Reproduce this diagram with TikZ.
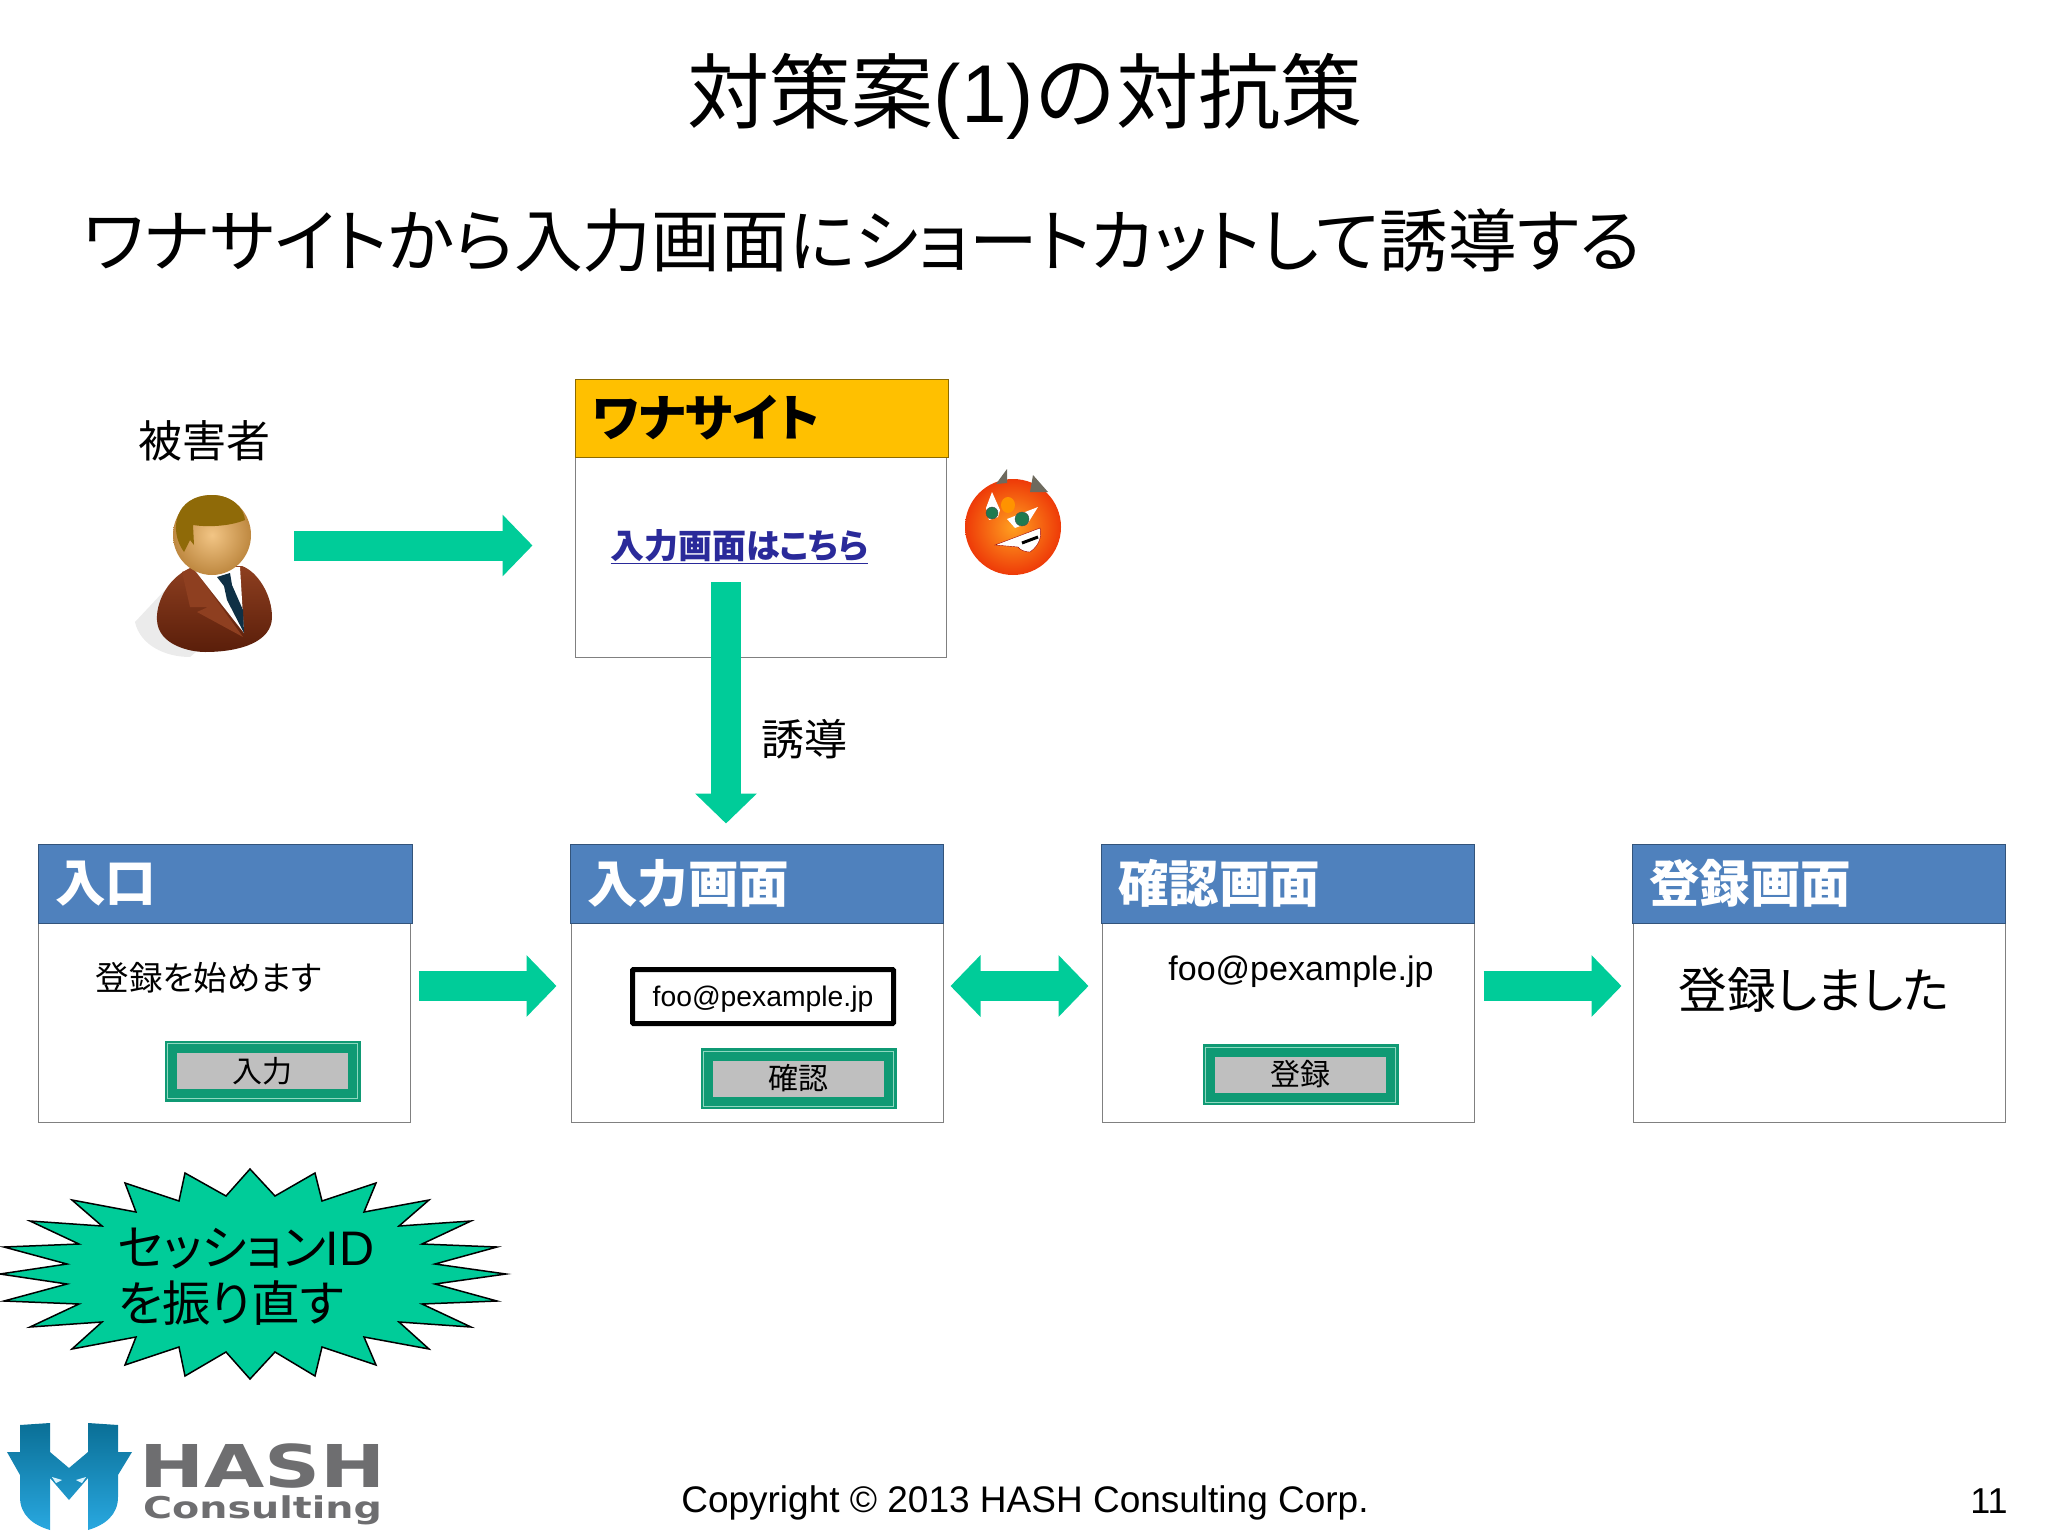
\documentclass[tikz,border=0pt]{standalone}
\usepackage{fontspec}
\usetikzlibrary{arrows.meta}
\setmainfont{Liberation Sans}
\newfontfamily\cjk{Noto Sans CJK JP}
\newfontfamily\cjkp[RawFeature=+palt]{Noto Sans CJK JP}
\newfontfamily\logofont[FakeStretch=1.32]{DejaVu Sans}
\newcommand{\sz}[1]{\fontsize{#1}{#1}\selectfont}
\definecolor{arrowgreen}{HTML}{00CC99}
\definecolor{headblue}{HTML}{4F81BD}
\definecolor{trapgold}{HTML}{FFC000}
\definecolor{btngreen}{HTML}{0F9A74}
\definecolor{btnlight}{HTML}{8FD8C0}
\definecolor{btngray}{HTML}{BFBFBF}
\definecolor{linkblue}{HTML}{2A2A9A}
\definecolor{suitlight}{HTML}{8E3F20}
\definecolor{suitdark}{HTML}{5A1E0A}
\definecolor{hairbrown}{HTML}{8F6A08}
\definecolor{skinlight}{HTML}{F2C585}
\definecolor{skindark}{HTML}{BE8840}
\definecolor{tieblue}{HTML}{0F3045}
\definecolor{devilin}{HTML}{FFA020}
\definecolor{devilout}{HTML}{EE3A08}
\definecolor{hornbrown}{HTML}{6E6A5E}
\definecolor{eyegreen}{HTML}{1F7A50}
\definecolor{logotop}{HTML}{0A6F96}
\definecolor{logobot}{HTML}{29A8E0}
\definecolor{logogray}{HTML}{6E6E70}
\tikzset{
	header/.style={draw=headblue!65!black,fill=headblue,line width=1pt,minimum height=79pt,text width=339pt,inner xsep=17pt,text=white,font=\cjk\bfseries\sz{50.5}},
	body/.style={draw=gray,fill=white,line width=1pt,minimum height=199pt},
	btn/.style={fill=btngray,inner sep=0pt,minimum width=171pt,minimum height=36pt,font=\cjk\sz{30},
		preaction={draw=btngreen,line width=25pt},preaction={draw=btnlight,line width=20pt},preaction={draw=btngreen,line width=18pt}},
	bigarrow/.style={draw=arrowgreen,line width=30pt,-{Triangle[length=30pt,width=60pt]}},
	label/.style={inner sep=0pt,font=\cjk\sz{#1}},
	plabel/.style={inner sep=0pt,font=\cjkp\sz{#1}},
	burst/.style={draw=black,fill=arrowgreen,line width=1.5pt}
}
\begin{document}
\begin{tikzpicture}[x=1pt,y=-1pt]
	\useasboundingbox (0,0) rectangle (2048,1536);

	\node[inner sep=0pt,font=\sz{82}] (title) at (1025,96) {\cjk 対策案\rmfamily(1)\cjk の対抗策};
	\node[plabel=68.7] (subtitle) at (862,240) {ワナサイトから入力画面にショートカットして誘導する};

	\node[label=44] (victimlabel) at (204,441) {被害者};
	\node[inner sep=0pt,minimum width=142pt,minimum height=160pt] (victim) at (203,575) {};
	\fill[gray!40,opacity=.4] (165,590) -- (135,622) .. controls (140,645) and (165,657) .. (190,657) -- (210,640) -- cycle;
	\draw[draw=none,top color=suitlight,bottom color=suitdark] (190,568) .. controls (165,580) and (156,605) .. (157,620) .. controls (158,645) and (190,652) .. (205,652) .. controls (240,652) and (272,642) .. (272,617) .. controls (272,595) and (258,572) .. (242,566) -- cycle;
	\fill[suitlight] (182,572) -- (190,607) -- (208,607) -- (197,612) -- (243,637) -- (193,568) -- cycle;
	\fill[white] (193,568) -- (240,567) -- (244,633) -- cycle;
	\fill[tieblue] (217,577) -- (230,573) -- (232,585) -- (243,610) -- (244,633) -- (227,600) -- (224,586) -- cycle;
	\shade[inner color=skinlight,outer color=skindark] (212,535) circle[x radius=39,y radius=40];
	\fill[hairbrown] (184,552) .. controls (168,530) and (175,495) .. (212,495) .. controls (232,495) and (244,508) .. (245,520) .. controls (228,527) and (205,527) .. (193,525) -- (194,545) -- (190,540) -- cycle;

	\node[body,minimum width=371pt,minimum height=200pt] (site) at (760.5,557) {};
	\node[header,draw=trapgold!55!black,fill=trapgold,text=black,font=\cjkp\bfseries\sz{50},minimum height=78pt] (sitehead) at (761.5,418) {ワナサイト};
	\node[inner sep=0pt,text=linkblue,font=\cjkp\bfseries\sz{34}] (sitelink) at (739.5,547) {\underline{入力画面はこちら}};

	\shade[inner color=devilin,outer color=devilout] (1013,527) circle[radius=48];
	\fill[hornbrown] (996,484) -- (1007,469) -- (1007,483) -- cycle;
	\fill[hornbrown] (1030,492) -- (1033,475) -- (1048,492) -- cycle;
	\fill[orange!85!yellow] (1008,505) circle[x radius=7,y radius=8];
	\fill[white] (992,492) -- (986,508) -- (989,520) -- (998,517) -- (1000,510) -- cycle;
	\fill[white] (1038,507) -- (1007,519) -- (1015,528) -- (1028,523) -- cycle;
	\fill[eyegreen,draw=black!70] (992,513) circle[radius=6];
	\fill[eyegreen,draw=black!70] (1022,519) circle[radius=7];
	\fill[white,draw=red!60!black] (995,545) -- (1040,528) .. controls (1042,535) and (1040,545) .. (1030,552) .. controls (1025,552) and (1020,550) .. (1018,547) -- cycle;
	\draw[black,line width=3pt] (1022,543) -- (1038,537);

	\node[body,minimum width=372pt] (entry) at (224,1023) {};
	\node[header,minimum width=374pt,text width=340pt] (entryhead) at (225,883.5) {入口};
	\node[plabel=33.5] (entrytext) at (208.5,978) {登録を始めます};
	\node[btn] (entrybtn) at (262.5,1071) {入力};

	\node[body,minimum width=372pt] (form) at (757,1023) {};
	\node[header] (formhead) at (756.5,883.5) {入力画面};
	\node[draw=black,fill=white,line width=5pt,rounded corners=1pt,inner sep=0pt,minimum width=261pt,minimum height=54pt,font=\sz{28.3}] (forminput) at (763,996.5) {\raisebox{-3pt}[\height][\depth]{foo@pexample.jp}};
	\node[btn] (formbtn) at (798.5,1078.5) {確認};

	\node[body,minimum width=372pt] (confirm) at (1288,1023) {};
	\node[header] (confirmhead) at (1287.5,883.5) {確認画面};
	\node[inner sep=0pt,font=\sz{34}] (confirmmail) at (1301,972) {foo@pexample.jp};
	\node[btn] (confirmbtn) at (1300.5,1074.5) {登録};

	\node[body,minimum width=372pt] (done) at (1819,1023) {};
	\node[header] (donehead) at (1818.5,883.5) {登録画面};
	\node[plabel=48.7] (donetext) at (1814,990) {登録しました};

	\draw[bigarrow,shorten <=20pt,shorten >=42pt] ([yshift=29.5pt]victim.east) -- ([yshift=11.5pt]site.west);
	\draw[bigarrow,shorten >=20pt] ([xshift=-34.5pt,yshift=-25pt]site.center) -- ([xshift=-30.5pt]formhead.north);
	\node[label=43] (lurelabel) at (804,739) {誘導};
	\draw[bigarrow,shorten <=8pt,shorten >=14pt] ([yshift=37pt]entry.east) -- ([yshift=37pt]form.west);
	\draw[bigarrow,{Triangle[length=30pt,width=60pt]}-{Triangle[length=30pt,width=60pt]},shorten <=7pt,shorten >=13pt] ([yshift=37pt]form.east) -- ([yshift=37pt]confirm.west);
	\draw[bigarrow,shorten <=9pt,shorten >=11pt] ([yshift=37pt]confirm.east) -- ([yshift=37pt]done.west);

	\draw[burst] (250,1169) -- (275,1196) -- (315,1173) -- (322,1201) -- (376,1183) -- (364,1212) -- (429,1200) -- (399,1226) -- (471,1221) -- (422,1244) -- (497,1247) -- (435,1264) -- (506,1274) -- (435,1284) -- (497,1301) -- (422,1304) -- (471,1327) -- (399,1322) -- (429,1349) -- (364,1337) -- (376,1365) -- (322,1347) -- (315,1376) -- (275,1352) -- (250,1379) -- (226,1352) -- (185,1376) -- (179,1347) -- (125,1365) -- (136,1337) -- (72,1349) -- (102,1322) -- (30,1327) -- (79,1304) -- (4,1301) -- (67,1284) -- (0,1274) -- (67,1264) -- (4,1247) -- (79,1244) -- (30,1221) -- (102,1226) -- (72,1200) -- (136,1212) -- (125,1183) -- (179,1201) -- (185,1173) -- (226,1196) -- cycle;
	\node[inner sep=0pt,align=left,font=\fontsize{48.5}{56}\selectfont] (bursttext) at (246,1277) {{\cjkp セッション}ID\\{\cjkp を振り直す}};

	\shade[top color=logotop,bottom color=logobot] (20,1425) -- (50,1423) -- (50,1452) -- (69,1468) -- (88,1452) -- (88,1423) -- (118,1425) -- (118,1452) -- (132,1452) -- (118,1475) -- (118,1497) .. controls (118,1515) and (105,1525) .. (88,1530) -- (88,1478) -- (69,1500) -- (50,1478) -- (50,1530) .. controls (33,1525) and (20,1515) .. (20,1497) -- (20,1475) -- (7,1452) -- (20,1452) -- cycle;
	\fill[white!85!cyan] (52,1477) -- (62,1480) -- (56,1483) -- cycle;
	\fill[white!85!cyan] (86,1477) -- (76,1480) -- (82,1483) -- cycle;
	\node[inner sep=0pt,text=logogray,font=\logofont\bfseries\sz{59}] (logohash) at (262.5,1466.5) {HASH};
	\node[inner sep=0pt,text=logogray,font=\logofont\bfseries\sz{30}] (logoname) at (262.5,1510) {Consulting};

	\node[inner sep=0pt,font=\sz{37}] (copyright) at (1025,1503) {Copyright © 2013 HASH Consulting Corp.};
	\node[inner sep=0pt,font=\sz{36}] (pagenum) at (1989,1501) {11};
\end{tikzpicture}
\end{document}
